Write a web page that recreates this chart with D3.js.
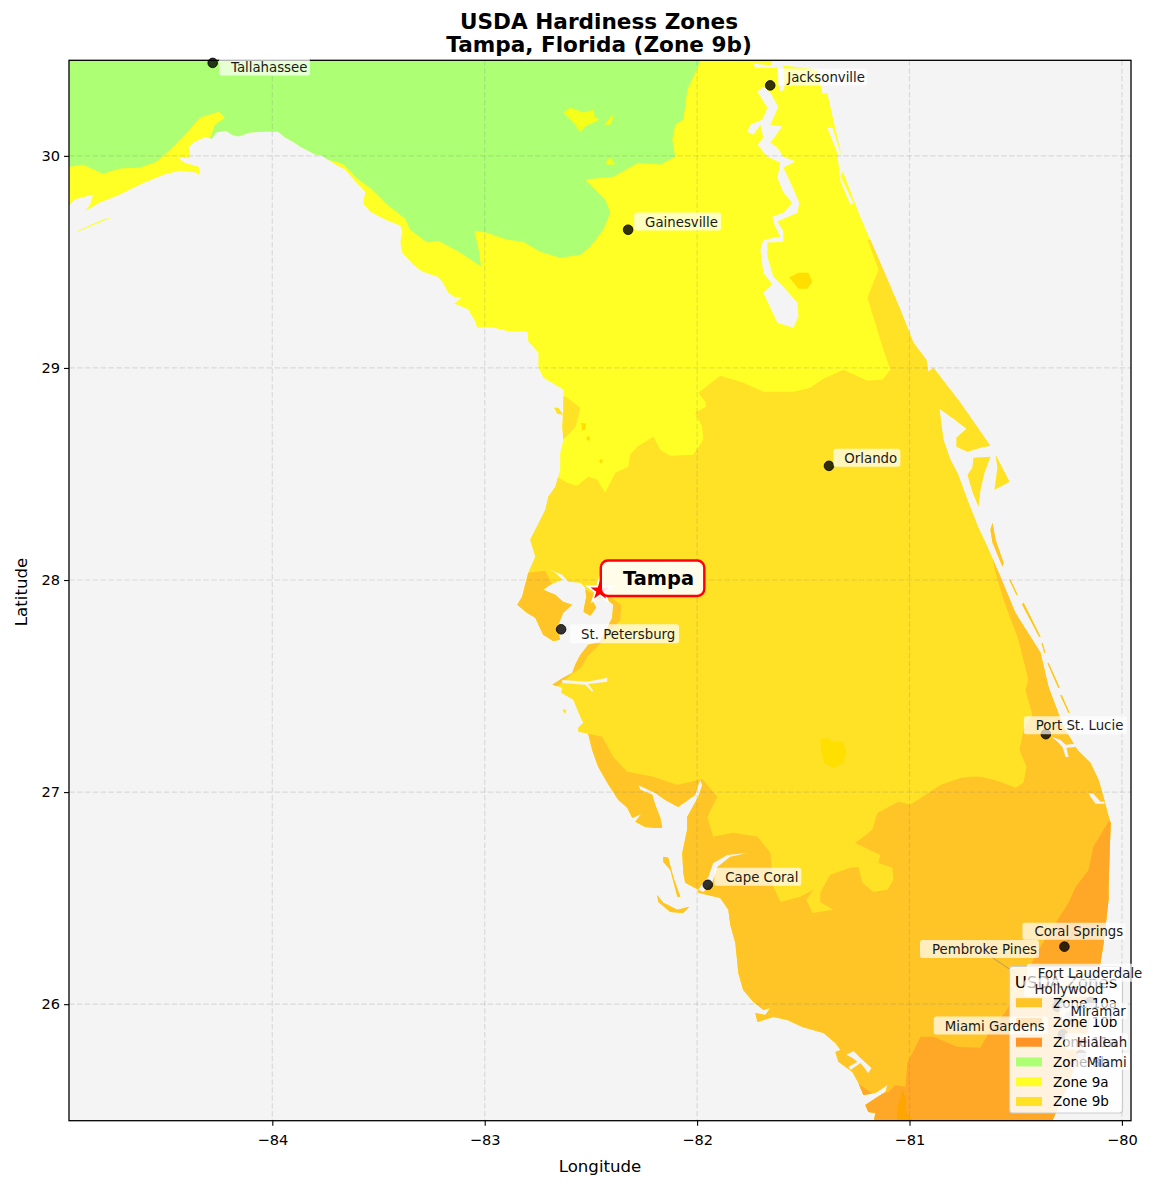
<!DOCTYPE html>
<html>
<head>
<meta charset="utf-8">
<script src="https://cdn.jsdelivr.net/npm/d3@7"></script>
<style>
  body { margin: 0; background: white; }
  text { font-family: "DejaVu Sans", sans-serif; }
</style>
</head>
<body>
<svg id="canvas"></svg>
<script>
// all outlines are [longitude, latitude]
let land = [[-85.1,30.6],[-85.1,29.76],[-84.958,29.761],[-84.93,29.794],[-84.845,29.817],[-84.859,29.77],[-84.887,29.737],[-84.812,29.779],[-84.718,29.817],[-84.6,29.874],[-84.506,29.912],[-84.435,29.93],[-84.364,29.921],[-84.341,29.907],[-84.345,29.949],[-84.411,29.968],[-84.444,29.992],[-84.388,29.987],[-84.393,30.039],[-84.364,30.067],[-84.317,30.086],[-84.284,30.081],[-84.265,30.11],[-84.218,30.119],[-84.19,30.1],[-84.162,30.091],[-84.105,30.11],[-84.034,30.114],[-83.973,30.114],[-83.94,30.086],[-83.903,30.067],[-83.87,30.044],[-83.799,30.006],[-83.766,30.001],[-83.705,29.959],[-83.658,29.935],[-83.61,29.879],[-83.563,29.831],[-83.573,29.775],[-83.54,29.737],[-83.469,29.699],[-83.398,29.671],[-83.389,29.643],[-83.398,29.591],[-83.389,29.544],[-83.337,29.487],[-83.295,29.454],[-83.224,29.43],[-83.201,29.407],[-83.172,29.355],[-83.139,29.331],[-83.106,29.336],[-83.144,29.303],[-83.078,29.275],[-83.045,29.218],[-83.036,29.19],[-82.96,29.19],[-82.88,29.171],[-82.8,29.171],[-82.795,29.124],[-82.748,29.072],[-82.748,29.006],[-82.725,28.954],[-82.63,28.897],[-82.63,28.803],[-82.635,28.723],[-82.63,28.661],[-82.645,28.6],[-82.645,28.52],[-82.668,28.44],[-82.701,28.393],[-82.715,28.331],[-82.786,28.19],[-82.762,28.11],[-82.795,28.034],[-82.824,27.921],[-82.847,27.883],[-82.8,27.845],[-82.762,27.822],[-82.725,27.742],[-82.678,27.713],[-82.645,27.718],[-82.659,27.775],[-82.631,27.845],[-82.588,27.883],[-82.631,27.897],[-82.668,27.93],[-82.725,27.954],[-82.692,27.978],[-82.635,28.001],[-82.668,28.034],[-82.701,28.053],[-82.635,28.025],[-82.607,27.992],[-82.55,27.987],[-82.527,27.963],[-82.522,27.921],[-82.536,27.85],[-82.503,27.831],[-82.475,27.869],[-82.494,27.907],[-82.456,27.916],[-82.423,27.907],[-82.395,27.883],[-82.4,27.822],[-82.456,27.709],[-82.513,27.695],[-82.55,27.647],[-82.574,27.6],[-82.588,27.562],[-82.631,27.539],[-82.682,27.506],[-82.635,27.492],[-82.64,27.468],[-82.583,27.435],[-82.55,27.355],[-82.536,27.327],[-82.56,27.303],[-82.56,27.284],[-82.513,27.275],[-82.494,27.199],[-82.466,27.119],[-82.423,27.044],[-82.371,26.963],[-82.329,26.926],[-82.305,26.878],[-82.263,26.897],[-82.291,26.86],[-82.244,26.836],[-82.197,26.831],[-82.164,26.831],[-82.173,26.878],[-82.197,26.94],[-82.211,26.987],[-82.268,27.011],[-82.277,27.034],[-82.197,26.996],[-82.15,26.963],[-82.089,26.93],[-82.009,26.987],[-81.995,27.034],[-81.985,27.058],[-81.976,27.034],[-81.995,26.977],[-82.047,26.883],[-82.047,26.822],[-82.07,26.713],[-82.065,26.619],[-82.056,26.572],[-81.994,26.539],[-81.994,26.525],[-81.891,26.501],[-81.853,26.445],[-81.844,26.374],[-81.82,26.289],[-81.806,26.147],[-81.783,26.067],[-81.735,26.01],[-81.688,25.973],[-81.655,25.982],[-81.679,25.949],[-81.726,25.959],[-81.716,25.916],[-81.641,25.94],[-81.575,25.926],[-81.504,25.893],[-81.405,25.864],[-81.349,25.817],[-81.325,25.784],[-81.349,25.775],[-81.335,25.728],[-81.269,25.68],[-81.241,25.629],[-81.217,25.572],[-81.161,25.581],[-81.104,25.619],[-81.113,25.586],[-81.151,25.562],[-81.208,25.525],[-81.194,25.492],[-81.161,25.487],[-81.17,25.43],[-80.336,25.43],[-80.265,25.595],[-80.171,25.831],[-80.11,26.138],[-80.086,26.289],[-80.063,26.492],[-80.063,26.553],[-80.053,26.855],[-80.067,26.902],[-80.086,26.977],[-80.11,27.058],[-80.148,27.138],[-80.209,27.199],[-80.275,27.308],[-80.345,27.496],[-80.383,27.657],[-80.421,27.718],[-80.501,27.845],[-80.572,28.015],[-80.633,28.157],[-80.675,28.246],[-80.727,28.379],[-80.774,28.506],[-80.807,28.567],[-80.84,28.661],[-80.859,28.808],[-80.793,28.761],[-80.732,28.713],[-80.779,28.671],[-80.779,28.629],[-80.727,28.605],[-80.666,28.624],[-80.619,28.633],[-80.76,28.836],[-80.887,29.001],[-80.911,28.982],[-80.92,29.039],[-80.981,29.119],[-81.043,29.275],[-81.123,29.463],[-81.231,29.713],[-81.311,29.921],[-81.325,30.029],[-81.387,30.298],[-81.42,30.478],[-81.4,30.6]];

let islands = [
  [[-80.699,28.577],[-80.619,28.581],[-80.647,28.506],[-80.666,28.426],[-80.675,28.345],[-80.704,28.416],[-80.727,28.496],[-80.704,28.529]],
  [[-80.595,28.591],[-80.529,28.463],[-80.6,28.426],[-80.586,28.529]],
  [[-80.609,28.27],[-80.595,28.19],[-80.557,28.081],[-80.562,28.062],[-80.609,28.176],[-80.619,28.237]],
  [[-80.524,28.001],[-80.491,27.93],[-80.497,27.93],[-80.53,28.001]],
  [[-80.463,27.893],[-80.383,27.732],[-80.39,27.732],[-80.47,27.885]],
  [[-80.374,27.704],[-80.36,27.657],[-80.365,27.657],[-80.378,27.7]],
  [[-80.345,27.61],[-80.293,27.492],[-80.3,27.492],[-80.35,27.606]],
  [[-80.284,27.459],[-80.246,27.374],[-80.252,27.374],[-80.29,27.455]],
  [[-82.159,26.695],[-82.136,26.69],[-82.112,26.6],[-82.079,26.506],[-82.093,26.506],[-82.126,26.633],[-82.159,26.671]],
  [[-82.188,26.515],[-82.159,26.478],[-82.093,26.445],[-82.037,26.459],[-82.065,26.43],[-82.126,26.435],[-82.183,26.482]],
  [[-82.635,27.388],[-82.616,27.388],[-82.621,27.369]],
  [[-84.751,29.709],[-84.79,29.695],[-84.921,29.64],[-84.915,29.648],[-84.79,29.703]],
  [[-82.673,28.812],[-82.654,28.812],[-82.63,28.779],[-82.659,28.784]]
];

let zone8b = [[-85.1,29.95],[-84.953,29.949],[-84.892,29.959],[-84.798,29.916],[-84.718,29.94],[-84.623,29.945],[-84.543,29.973],[-84.482,30.029],[-84.402,30.11],[-84.341,30.18],[-84.251,30.209],[-84.223,30.18],[-84.27,30.147],[-84.294,30.081],[-84.237,29.982],[-83.87,29.982],[-83.785,29.996],[-83.667,29.963],[-83.606,29.897],[-83.535,29.845],[-83.469,29.779],[-83.375,29.704],[-83.351,29.652],[-83.271,29.591],[-83.219,29.6],[-83.116,29.544],[-83.017,29.478],[-83.031,29.572],[-83.05,29.647],[-82.989,29.638],[-82.894,29.605],[-82.819,29.595],[-82.739,29.548],[-82.645,29.52],[-82.55,29.534],[-82.503,29.572],[-82.442,29.652],[-82.409,29.732],[-82.433,29.794],[-82.527,29.888],[-82.395,29.902],[-82.277,29.968],[-82.173,29.959],[-82.103,29.996],[-82.117,30.077],[-82.103,30.147],[-82.065,30.171],[-82.046,30.312],[-81.985,30.445],[-81.976,30.501],[-85.1,30.501]];

let zone9aPockets = [
  [[-82.631,30.204],[-82.597,30.228],[-82.536,30.204],[-82.489,30.218],[-82.48,30.18],[-82.456,30.171],[-82.527,30.138],[-82.55,30.11],[-82.574,30.147]],
  [[-82.423,30.162],[-82.4,30.195],[-82.395,30.18],[-82.409,30.147],[-82.437,30.147]],
  [[-82.433,29.968],[-82.409,29.992],[-82.385,29.959],[-82.423,29.959]]
];

let zone9b = [
  [[-82.927,28.487],[-82.659,28.487],[-82.612,28.459],[-82.565,28.445],[-82.513,28.487],[-82.47,28.473],[-82.433,28.411],[-82.385,28.506],[-82.324,28.534],[-82.315,28.591],[-82.282,28.628],[-82.206,28.676],[-82.173,28.614],[-82.126,28.586],[-82.018,28.591],[-81.971,28.661],[-81.976,28.723],[-82.009,28.789],[-81.957,28.817],[-81.961,28.841],[-81.994,28.883],[-81.891,28.963],[-81.782,28.93],[-81.688,28.888],[-81.547,28.888],[-81.467,28.907],[-81.405,28.949],[-81.311,28.992],[-81.198,28.94],[-81.127,28.945],[-81.09,28.992],[-81.123,29.086],[-81.198,29.331],[-81.146,29.463],[-81.198,29.605],[-81.019,29.605],[-79.912,27.907],[-79.912,25.407],[-82.927,25.407]],
  [[-82.618,28.864],[-82.55,28.812],[-82.561,28.765],[-82.574,28.718],[-82.631,28.661],[-82.739,28.661],[-82.739,28.874]]
];

let zone9bPockets = [
  [[-81.566,29.426],[-81.523,29.449],[-81.476,29.449],[-81.457,29.407],[-81.481,29.374],[-81.523,29.374]],
  [[-81.42,27.246],[-81.387,27.256],[-81.363,27.237],[-81.316,27.237],[-81.297,27.19],[-81.311,27.138],[-81.358,27.114],[-81.401,27.138],[-81.415,27.185]],
  [[-82.546,28.742],[-82.522,28.737],[-82.527,28.709],[-82.541,28.704]],
  [[-82.517,28.68],[-82.503,28.671],[-82.508,28.657],[-82.522,28.661]],
  [[-82.456,28.572],[-82.442,28.563],[-82.451,28.548],[-82.461,28.558]]
];

let zone10a = [
  [[-80.101,28.379],[-80.642,28.275],[-80.619,28.152],[-80.595,28.034],[-80.557,27.907],[-80.487,27.718],[-80.44,27.529],[-80.454,27.482],[-80.421,27.364],[-80.463,27.294],[-80.482,27.199],[-80.449,27.119],[-80.463,27.044],[-80.501,27.02],[-80.562,27.044],[-80.605,27.058],[-80.666,27.072],[-80.713,27.072],[-80.76,27.067],[-80.854,27.034],[-80.996,26.94],[-81.052,26.954],[-81.151,26.902],[-81.175,26.822],[-81.255,26.76],[-81.137,26.704],[-81.146,26.666],[-81.08,26.643],[-81.076,26.586],[-81.104,26.539],[-81.17,26.529],[-81.222,26.572],[-81.241,26.647],[-81.278,26.643],[-81.373,26.61],[-81.42,26.525],[-81.42,26.482],[-81.358,26.445],[-81.457,26.43],[-81.486,26.492],[-81.453,26.539],[-81.514,26.506],[-81.608,26.482],[-81.641,26.553],[-81.655,26.713],[-81.716,26.789],[-81.83,26.808],[-81.924,26.789],[-81.952,26.883],[-81.905,26.978],[-81.976,27.062],[-82.093,27.034],[-82.206,27.072],[-82.329,27.096],[-82.395,27.166],[-82.447,27.261],[-82.513,27.275],[-82.645,27.246],[-82.645,26.869],[-82.268,25.407],[-79.912,25.407],[-79.912,28.379]],
  [[-82.877,28.025],[-82.795,28.034],[-82.715,28.044],[-82.682,27.978],[-82.574,27.907],[-82.574,27.718],[-82.692,27.671],[-82.88,27.812]],
  [[-82.527,27.954],[-82.475,27.93],[-82.456,27.836],[-82.536,27.812]],
  [[-82.423,27.93],[-82.357,27.883],[-82.362,27.812],[-82.447,27.709],[-82.517,27.638],[-82.546,27.586],[-82.588,27.558],[-82.621,27.53],[-82.682,27.482],[-82.715,27.529],[-82.574,27.718]]
];

let zone10b = [[-80.063,26.86],[-80.086,26.822],[-80.134,26.742],[-80.157,26.633],[-80.218,26.553],[-80.251,26.478],[-80.393,26.256],[-80.477,26.091],[-80.548,25.963],[-80.619,25.879],[-80.666,25.794],[-80.774,25.798],[-80.887,25.846],[-80.948,25.846],[-80.986,25.77],[-81.01,25.723],[-81.019,25.61],[-81.066,25.619],[-81.099,25.586],[-81.175,25.577],[-81.245,25.629],[-81.278,25.596],[-81.231,25.407],[-79.912,25.407],[-79.912,26.893]];

let zone10bPocket = [[-81.033,25.596],[-81.015,25.548],[-81.019,25.492],[-80.986,25.454],[-80.986,25.407],[-81.061,25.407],[-81.057,25.515],[-81.043,25.558]];

let water = [
  [[-81.716,30.303],[-81.669,30.227],[-81.693,30.171],[-81.749,30.147],[-81.764,30.114],[-81.735,30.1],[-81.702,30.147],[-81.688,30.086],[-81.716,30.053],[-81.669,29.996],[-81.608,29.968],[-81.622,29.897],[-81.594,29.827],[-81.552,29.779],[-81.594,29.732],[-81.646,29.713],[-81.632,29.666],[-81.608,29.619],[-81.688,29.605],[-81.702,29.558],[-81.688,29.449],[-81.646,29.393],[-81.688,29.355],[-81.622,29.213],[-81.547,29.19],[-81.523,29.242],[-81.528,29.308],[-81.594,29.383],[-81.641,29.43],[-81.669,29.525],[-81.669,29.591],[-81.594,29.595],[-81.594,29.643],[-81.622,29.69],[-81.528,29.732],[-81.519,29.779],[-81.552,29.855],[-81.594,29.945],[-81.537,29.973],[-81.594,29.996],[-81.622,30.039],[-81.655,30.062],[-81.599,30.138],[-81.655,30.147],[-81.618,30.232],[-81.655,30.298],[-81.688,30.327]],
  [[-81.735,30.435],[-81.655,30.426],[-81.636,30.463],[-81.41,30.463],[-81.382,30.298],[-81.41,30.293],[-81.434,30.407],[-81.594,30.426],[-81.589,30.312],[-81.608,30.303],[-81.622,30.416],[-81.726,30.416]],
  [[-81.387,30.133],[-81.363,30.133],[-81.325,30.015],[-81.311,29.935],[-81.325,29.902],[-81.264,29.779],[-81.278,29.77],[-81.325,29.879],[-81.34,30.015]],
  [[-81.764,26.713],[-81.844,26.695],[-81.905,26.647],[-81.929,26.572],[-81.971,26.529],[-81.994,26.539],[-81.971,26.572],[-81.947,26.6],[-81.924,26.666],[-81.858,26.704]],
  [[-82.635,27.529],[-82.583,27.525],[-82.517,27.52],[-82.423,27.539],[-82.423,27.52],[-82.513,27.51],[-82.489,27.478],[-82.494,27.473],[-82.527,27.506],[-82.635,27.515]],
  [[-81.297,25.761],[-81.264,25.779],[-81.231,25.746],[-81.179,25.699],[-81.194,25.676],[-81.231,25.723],[-81.278,25.69],[-81.288,25.704],[-81.245,25.728],[-81.269,25.746]],
  [[-80.331,27.261],[-80.289,27.246],[-80.265,27.223],[-80.218,27.228],[-80.218,27.213],[-80.261,27.209],[-80.251,27.166],[-80.265,27.166],[-80.28,27.213],[-80.303,27.237]],
  [[-80.157,26.996],[-80.134,26.992],[-80.101,26.954],[-80.082,26.954],[-80.082,26.945],[-80.124,26.945],[-80.148,26.978]]
];

let cityNames = ["Tallahassee","Jacksonville","Gainesville","Orlando","St. Petersburg","Port St. Lucie","Cape Coral","Coral Springs","Pembroke Pines","Hollywood","Miami Gardens","Miramar","Hialeah","Miami","Fort Lauderdale"];
let cityLons = [-84.2807,-81.6557,-82.3248,-81.3792,-82.6403,-80.3582,-81.9495,-80.2707,-80.2962,-80.1495,-80.2456,-80.3035,-80.2781,-80.1918,-80.1373];
let cityLats = [30.4383,30.3322,29.6516,28.5383,27.7676,27.273,26.5629,26.2712,26.0078,26.0112,25.942,25.9873,25.8576,25.7617,26.1224];

let tampaLon = -82.4572;
let tampaLat = 27.9506;

let legendNames = ["Zone 10a","Zone 10b","Zone 11a","Zone 8b","Zone 9a","Zone 9b"];

let lonTicks = [-84,-83,-82,-81,-80];
let latTicks = [26,27,28,29,30];

// colours and layout stay apart from the data
let legendColors = ["#ffc426","#ffa726","#ff9326","#adff73","#ffff26","#ffe126"];
let seaColor = "#f4f4f4";

// box left, box top, box width, box height, text x: pixels from the city dot
let labelOffsets = {
  "Tallahassee": [6.3,-4.4,91,17,18.3],
  "Jacksonville": [7,-17,90,17,17],
  "Gainesville": [6,-17.2,87,18,17],
  "Orlando": [4.4,-17.2,67,18,15.4],
  "St. Petersburg": [9,-5,109,19,20],
  "Port St. Lucie": [-22,-18,103,18,-10],
  "Cape Coral": [6.5,-17,87,18,17.5],
  "Coral Springs": [-42,-24,103,17,-30],
  "Pembroke Pines": [-139,-62.6,119,18,-127],
  "Fort Lauderdale": [-66,-14.4,114,18,-55],
  "Hollywood": [-66,-22,82,17,-55.6],
  "Miramar": [2,-4,68,16,13],
  "Miami Gardens": [-136,0,114,18,-125],
  "Hialeah": [2,-1.5,63,17,14],
  "Miami": [-5.4,-1.8,54,17,5.6]
};
let leaderCities = ["Coral Springs","Pembroke Pines","Fort Lauderdale","Hollywood","Miramar","Miami Gardens","Hialeah","Miami"];

let width = 1154;
let height = 1187;
let plotLeft = 69;
let plotRight = 1131;
let plotTop = 60.3;
let plotBottom = 1120.7;

let canvas = d3.select("#canvas")
            .attr("width", width)
            .attr("height", height)
            .style("display", "block");

let xScale = d3.scaleLinear()
            .domain([tampaLon - 2.5, tampaLon + 2.5])
            .range([plotLeft, plotRight]);

let yScale = d3.scaleLinear()
            .domain([tampaLat - 2.5, tampaLat + 2.5])
            .range([plotBottom, plotTop]);

let outline = d3.line()
            .x((d) => xScale(d[0]))
            .y((d) => yScale(d[1]));

let defs = canvas.append("defs");

defs.append("clipPath")
    .attr("id", "plot-clip")
    .append("rect")
    .attr("x", plotLeft)
    .attr("y", plotTop)
    .attr("width", plotRight - plotLeft)
    .attr("height", plotBottom - plotTop);

defs.append("clipPath")
    .attr("id", "land-clip")
    .append("path")
    .attr("d", [land].concat(islands).map((ring) => outline(ring) + "Z").join(""));

canvas.append("rect")
    .attr("x", plotLeft)
    .attr("y", plotTop)
    .attr("width", plotRight - plotLeft)
    .attr("height", plotBottom - plotTop)
    .attr("fill", seaColor);

let map = canvas.append("g").attr("clip-path", "url(#plot-clip)");
let zones = map.append("g").attr("clip-path", "url(#land-clip)");

let drawRings = (parent, rings, color) => {
    parent.selectAll(null)
        .data(rings)
        .enter()
        .append("path")
        .attr("d", (ring) => outline(ring) + "Z")
        .attr("fill", color);
};

// paint the zones coldest first, each one covers the one before it
drawRings(zones, [land].concat(islands), "#ffff26");
drawRings(zones, [zone8b], "#adff73");
drawRings(zones, zone9aPockets, "#f4ff1a");
drawRings(zones, zone9b, "#ffe126");
drawRings(zones, zone9bPockets, "#ffdf00");
drawRings(zones, zone10a, "#ffc426");
drawRings(zones, [zone10b], "#ffa726");
drawRings(zones, [zone10bPocket], "#ffa500");
drawRings(map, water, seaColor);

// grid
let grid = canvas.append("g")
            .attr("stroke", "#808080")
            .attr("stroke-opacity", 0.22)
            .attr("stroke-width", 1.2)
            .attr("stroke-dasharray", "5.5,2.4");

grid.selectAll(null).data(lonTicks).enter().append("line")
    .attr("x1", (d) => xScale(d)).attr("x2", (d) => xScale(d))
    .attr("y1", plotTop).attr("y2", plotBottom);

grid.selectAll(null).data(latTicks).enter().append("line")
    .attr("y1", (d) => yScale(d)).attr("y2", (d) => yScale(d))
    .attr("x1", plotLeft).attr("x2", plotRight);

// axes
let xAxis = d3.axisBottom(xScale)
            .tickValues(lonTicks)
            .tickSize(5)
            .tickPadding(9)
            .tickFormat((d) => "\u2212" + Math.abs(d));

let yAxis = d3.axisLeft(yScale)
            .tickValues(latTicks)
            .tickSize(5)
            .tickPadding(4)
            .tickFormat(d3.format("d"));

let xGroup = canvas.append("g")
            .attr("transform", "translate(0, " + plotBottom + ")")
            .call(xAxis);

let yGroup = canvas.append("g")
            .attr("transform", "translate(" + plotLeft + ", 0)")
            .call(yAxis);

[xGroup, yGroup].forEach((axis) => {
    axis.select(".domain").remove();
    axis.selectAll("text")
        .attr("fill", "black")
        .style("font-family", "'DejaVu Sans', sans-serif")
        .style("font-size", "14.6px");
    axis.selectAll("line").attr("stroke", "black").attr("stroke-width", 1.1);
});

canvas.append("rect")
    .attr("x", plotLeft)
    .attr("y", plotTop)
    .attr("width", plotRight - plotLeft)
    .attr("height", plotBottom - plotTop)
    .attr("fill", "none")
    .attr("stroke", "black")
    .attr("stroke-width", 1.3);

// titles
canvas.append("text").text("USDA Hardiness Zones")
    .attr("x", 599).attr("y", 29)
    .attr("text-anchor", "middle")
    .attr("font-size", "21.6px").attr("font-weight", "bold");

canvas.append("text").text("Tampa, Florida (Zone 9b)")
    .attr("x", 599).attr("y", 52)
    .attr("text-anchor", "middle")
    .attr("font-size", "21.6px").attr("font-weight", "bold");

canvas.append("text").text("Longitude")
    .attr("x", 600).attr("y", 1172)
    .attr("text-anchor", "middle")
    .attr("font-size", "16.6px");

canvas.append("text").text("Latitude")
    .attr("transform", "translate(27, 592) rotate(-90)")
    .attr("text-anchor", "middle")
    .attr("font-size", "16.6px");

// cities
let cities = cityNames.map((name, i) => ({
    name: name,
    x: xScale(cityLons[i]),
    y: yScale(cityLats[i]),
    offset: labelOffsets[name]
}));

canvas.append("g").selectAll("line")
    .data(cities.filter((c) => leaderCities.includes(c.name)))
    .enter()
    .append("line")
    .attr("x1", (c) => c.x)
    .attr("y1", (c) => c.y)
    .attr("x2", (c) => c.x + c.offset[0] + c.offset[2] / 2)
    .attr("y2", (c) => c.y + c.offset[1] + c.offset[3] / 2)
    .attr("stroke", "#808080")
    .attr("stroke-opacity", 0.6)
    .attr("stroke-width", 1);

canvas.append("g").selectAll("circle")
    .data(cities)
    .enter()
    .append("circle")
    .attr("cx", (c) => c.x)
    .attr("cy", (c) => c.y)
    .attr("r", 4.8)
    .attr("fill", "black")
    .attr("fill-opacity", 0.8)
    .attr("stroke", "black")
    .attr("stroke-opacity", 0.8);

// legend
let legend = canvas.append("g");

legend.append("rect")
    .attr("x", 1009.5).attr("y", 966.5)
    .attr("width", 113).attr("height", 146.5)
    .attr("rx", 3)
    .attr("fill", "white").attr("fill-opacity", 0.85)
    .attr("stroke", "#cccccc").attr("stroke-width", 1.2);

legend.append("text").text("USDA Zones")
    .attr("x", 1066).attr("y", 988)
    .attr("text-anchor", "middle")
    .attr("font-size", "16.6px");

let legendRows = legend.selectAll("g")
            .data(legendNames)
            .enter()
            .append("g")
            .attr("transform", (d, i) => "translate(0, " + (1002.7 + i * 19.75) + ")");

legendRows.append("rect")
    .attr("x", 1016).attr("y", -4.5)
    .attr("width", 26).attr("height", 9)
    .attr("fill", (d, i) => legendColors[i]);

legendRows.append("text").text((d) => d)
    .attr("x", 1053).attr("y", 5)
    .attr("font-size", "13.5px");

// city labels sit above the legend
let labels = canvas.append("g").selectAll("g")
            .data(cities)
            .enter()
            .append("g")
            .attr("transform", (c) => "translate(" + c.x + ", " + c.y + ")");

labels.append("rect")
    .attr("x", (c) => c.offset[0])
    .attr("y", (c) => c.offset[1])
    .attr("width", (c) => c.offset[2])
    .attr("height", (c) => c.offset[3])
    .attr("rx", 2.5)
    .attr("fill", "white")
    .attr("fill-opacity", 0.7);

labels.append("text").text((c) => c.name)
    .attr("x", (c) => c.offset[4])
    .attr("y", (c) => c.offset[1] + c.offset[3] / 2 + 5.2)
    .attr("font-size", "13.3px")
    .attr("fill", "#1a1a1a");

// Tampa marker
let tampaX = xScale(tampaLon);
let tampaY = yScale(tampaLat);

canvas.append("path")
    .attr("d", d3.symbol().type(d3.symbolStar).size(190)())
    .attr("transform", "translate(" + tampaX + ", " + tampaY + ")")
    .attr("fill", "red")
    .attr("stroke", "white")
    .attr("stroke-width", 1.8);

canvas.append("rect")
    .attr("x", tampaX + 0.8)
    .attr("y", tampaY - 30)
    .attr("width", 103.5)
    .attr("height", 35.5)
    .attr("rx", 7)
    .attr("fill", "white")
    .attr("fill-opacity", 0.9)
    .attr("stroke", "red")
    .attr("stroke-width", 2.4);

canvas.append("text").text("Tampa")
    .attr("x", tampaX + 23)
    .attr("y", tampaY - 5.5)
    .attr("font-size", "19.4px")
    .attr("font-weight", "bold");
</script>
</body>
</html>
